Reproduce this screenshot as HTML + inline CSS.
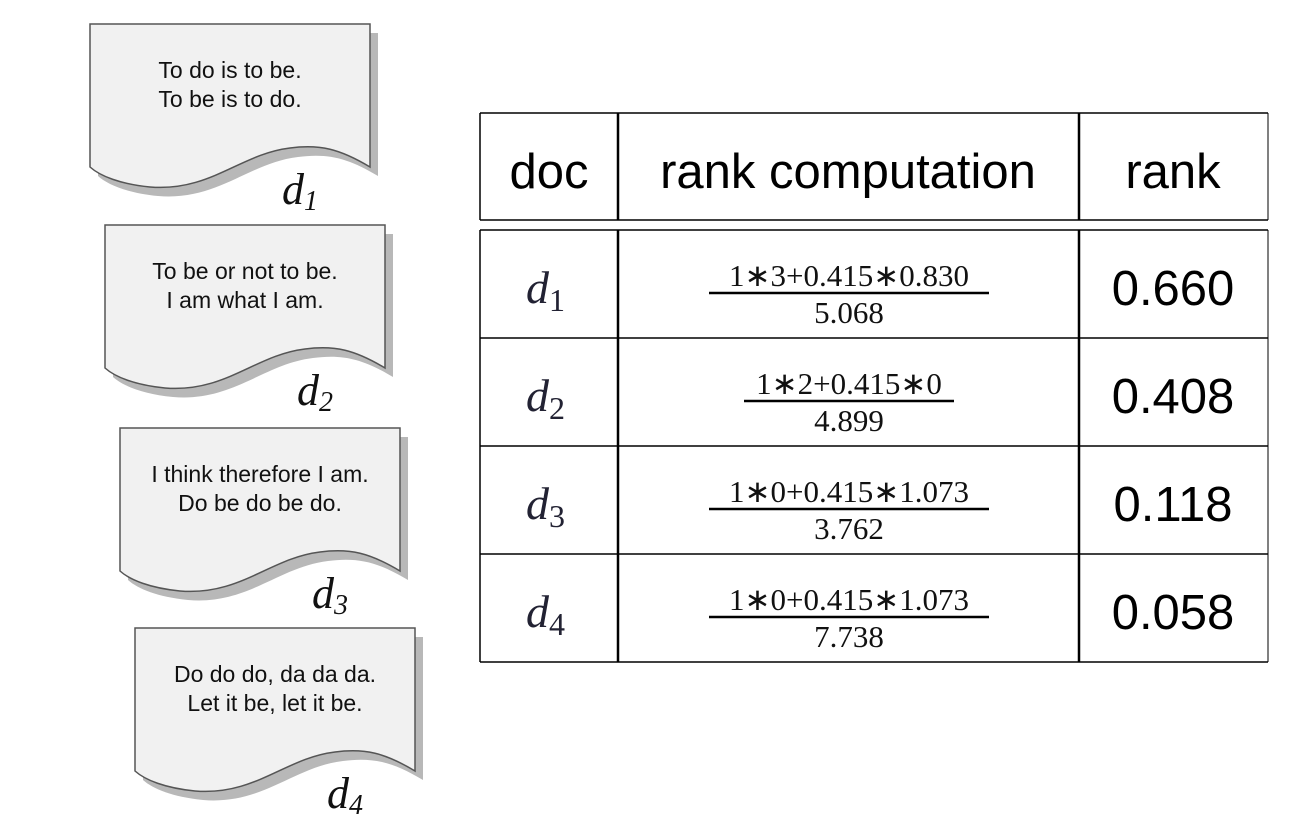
<!DOCTYPE html>
<html><head><meta charset="utf-8"><style>
html,body{margin:0;padding:0;background:#fff}
svg{display:block}
.s{font-family:"Liberation Sans",sans-serif}
.r{font-family:"Liberation Serif",serif}
</style></head><body>
<svg width="1310" height="830" viewBox="0 0 1310 830">
<defs>
<path id="docshape" d="M0,0 H280 V143 C250,125 230,120 200,124 C150,130 120,168 60,163 C30,160 10,152 0,143 Z"/>
</defs>
<g id="docs"></g>
<g id="table"></g>
</svg>
<script>
const NS="http://www.w3.org/2000/svg";
const docX=[90,105,120,135];
const docY=[24,225,428,628];
const docLines=[["To do is to be.","To be is to do."],["To be or not to be.","I am what I am."],["I think therefore I am.","Do be do be do."],["Do do do, da da da.","Let it be, let it be."]];
const numer=["1\u22173+0.415\u22170.830","1\u22172+0.415\u22170","1\u22170+0.415\u22171.073","1\u22170+0.415\u22171.073"];
const denom=["5.068","4.899","3.762","7.738"];
const ranks=["0.660","0.408","0.118","0.058"];
function mk(t,a,p){const e=document.createElementNS(NS,t);for(const k in a)e.setAttribute(k,a[k]);p.appendChild(e);return e;}
const dg=document.getElementById('docs');
for(let i=0;i<4;i++){
  const g=mk('g',{transform:`translate(${docX[i]},${docY[i]})`},dg);
  
  
  mk('use',{href:'#docshape',transform:'translate(8,9)',fill:'#b8b8b8'},g);
  mk('use',{href:'#docshape',fill:'#f1f1f1',stroke:'#555','stroke-width':'1.5'},g);
  docLines[i].forEach((l,j)=>{const t=mk('text',{x:140,y:54+j*29,'text-anchor':'middle','font-size':'23',class:'s',fill:'#111'},g);t.textContent=l;});
  const lb=mk('text',{x:192,y:180,class:'r','font-size':'44','font-style':'italic',fill:'#111'},g);
  
  
  lb.innerHTML='d<tspan font-size="28" dy="6">'+(i+1)+'</tspan>';
}
const tg=document.getElementById('table');
const L=480,C1=618,C2=1079,R=1268,T=113,H=220,B0=230,RH=108;
const ln=(x1,y1,x2,y2,w)=>mk('line',{x1,y1,x2,y2,stroke:'#000','stroke-width':w||1.5},tg);
ln(L,T,R,T);ln(L,H,R,H);
for(let i=0;i<=4;i++)ln(L,B0+i*RH,R,B0+i*RH);
[L,C1,C2].forEach(x=>{ln(x,T,x,H,x==L?1.5:2.5);ln(x,B0,x,B0+4*RH,x==L?1.5:2.5);});
ln(R,T,R,H,1);ln(R,B0,R,B0+4*RH,1);
[["doc",549],["rank computation",848],["rank",1173]].forEach(([s,x])=>{const t=mk('text',{x,y:188,'text-anchor':'middle','font-size':'49',class:'s',fill:'#000'},tg);t.textContent=s;});
for(let i=0;i<4;i++){
  const y=B0+i*RH;
  const d=mk('text',{x:526,y:y+73,class:'r','font-size':'46','font-style':'italic',fill:'#223'},tg);
  d.innerHTML='d<tspan font-style="normal" font-size="32" dy="8">'+(i+1)+'</tspan>';
  
  
  const n=mk('text',{x:849,y:y+56,'text-anchor':'middle',class:'r','font-size':'31',fill:'#111'},tg);n.textContent=numer[i];
  
  
  const w=numer[i].length>12?140:105;
  ln(849-w,y+63,849+w,y+63,2.5);
  const dn=mk('text',{x:849,y:y+93,'text-anchor':'middle',class:'r','font-size':'31',fill:'#111'},tg);dn.textContent=denom[i];
  
  
  const r=mk('text',{x:1173,y:y+75,'text-anchor':'middle',class:'s','font-size':'49',fill:'#000'},tg);r.textContent=ranks[i];
  
  
}
</script>
</body></html>
